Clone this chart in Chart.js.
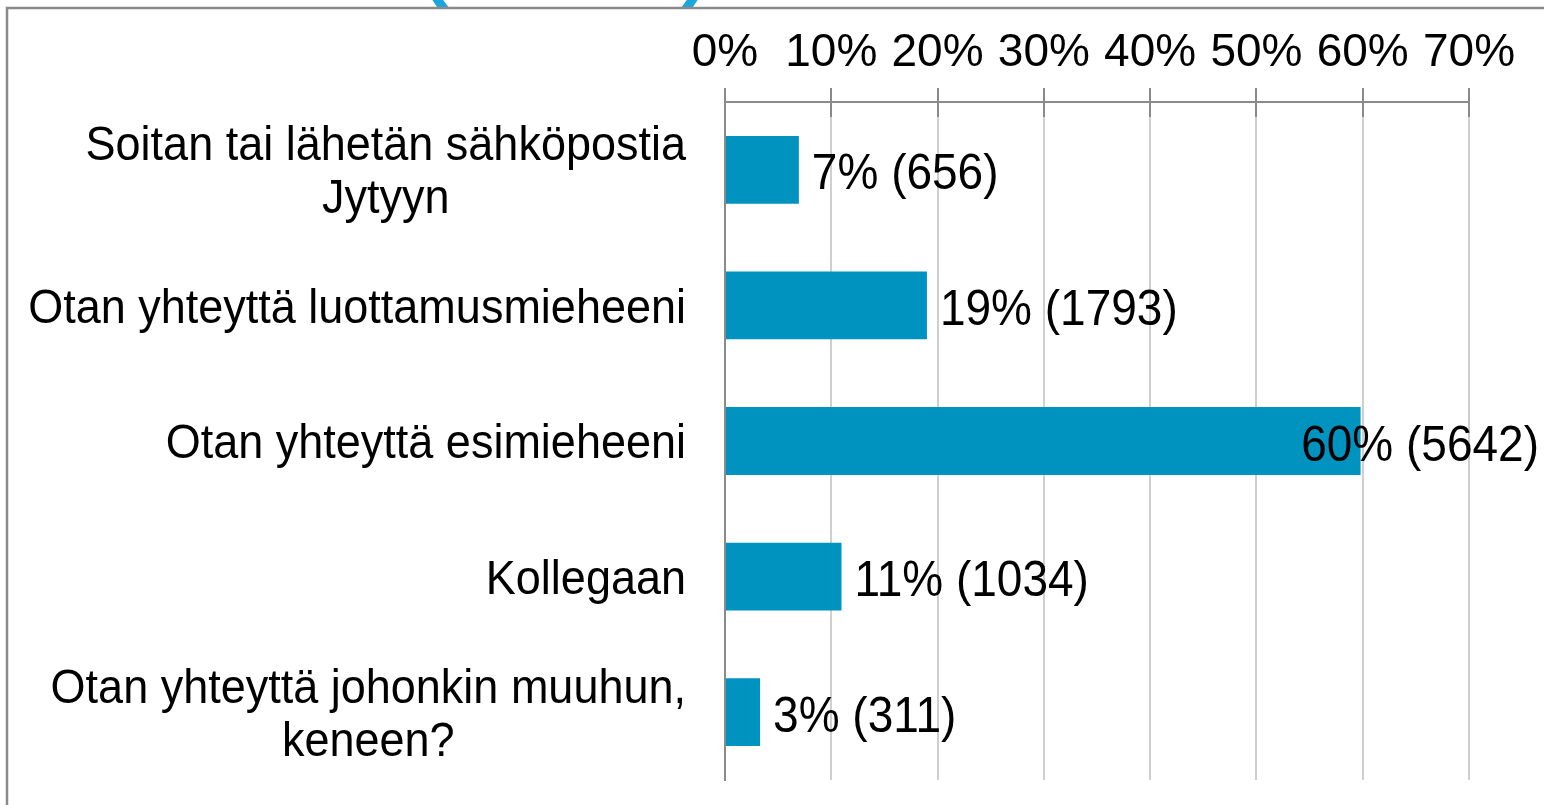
<!DOCTYPE html>
<html>
<head>
<meta charset="utf-8">
<script src="https://cdn.jsdelivr.net/npm/chart.js@4.4.0/dist/chart.umd.min.js"></script>
<style>
  html, body { margin: 0; padding: 0; background: #fff; overflow: hidden; }
  #wrap { width: 1544px; height: 805px; position: relative; }
</style>
</head>
<body>
<div id="wrap"><canvas id="answersChart"></canvas></div>
<script>
// data
const categories = [
  ["Soitan tai lähetän sähköpostia", "Jytyyn"],
  ["Otan yhteyttä luottamusmieheeni"],
  ["Otan yhteyttä esimieheeni"],
  ["Kollegaan"],
  ["Otan yhteyttä johonkin muuhun,", "keneen?"]
];
const shares = [6.95, 19.0, 59.8, 10.96, 3.3];
const shareLabels = ["7%", "19%", "60%", "11%", "3%"];
const counts = [656, 1793, 5642, 1034, 311];
const tickStep = 10;
const tickMax = 70;

const FONT = "'Liberation Sans', Arial, sans-serif";
const barColor = "#0093c0";

// text a little taller than the plain font, like the original
function tallText(ctx, txt, x, y, sy) {
  ctx.save();
  ctx.translate(x, y);
  ctx.scale(1, sy);
  ctx.fillText(txt, 0, 0);
  ctx.restore();
}

// frame, labels and other bits chart.js doesn't do by itself
const extras = {
  id: "extras",
  afterDraw(chart) {
    const ctx = chart.ctx;
    const area = chart.chartArea;
    const xScale = chart.scales.x;
    const yScale = chart.scales.y;
    ctx.save();

    // cut-off blue shape above the frame
    ctx.save();
    ctx.beginPath();
    ctx.rect(0, 0, chart.width, 7);
    ctx.clip();
    ctx.strokeStyle = "#1ba6dc";
    ctx.lineWidth = 9;
    ctx.beginPath();
    ctx.arc(565, -85, 153, 0, Math.PI * 2);
    ctx.stroke();
    ctx.restore();

    // frame
    ctx.strokeStyle = "#8a8a8a";
    ctx.lineWidth = 2.5;
    ctx.beginPath();
    ctx.moveTo(7, chart.height);
    ctx.lineTo(7, 8);
    ctx.lineTo(chart.width, 8);
    ctx.stroke();

    // darker tick stubs just under the axis line
    ctx.strokeStyle = "#8a8a8a";
    ctx.lineWidth = 2;
    for (let v = 0; v <= tickMax; v += tickStep) {
      const px = Math.round(xScale.getPixelForValue(v));
      ctx.beginPath();
      ctx.moveTo(px, area.top);
      ctx.lineTo(px, area.top + 15);
      ctx.stroke();
    }

    // category labels, lines centred within each block
    ctx.fillStyle = "#000";
    ctx.font = "45px " + FONT;
    ctx.textAlign = "center";
    ctx.textBaseline = "middle";
    const lineH = 53;
    categories.forEach((lines, i) => {
      const y = yScale.getPixelForValue(i) + 4;
      const maxW = Math.max(...lines.map(l => ctx.measureText(l).width));
      const cx = area.left - 39 - maxW / 2;
      lines.forEach((l, j) => {
        tallText(ctx, l, cx, y + (j - (lines.length - 1) / 2) * lineH, 1.06);
      });
    });

    // value labels
    ctx.font = "46px " + FONT;
    ctx.textAlign = "left";
    const meta = chart.getDatasetMeta(0);
    meta.data.forEach((bar, i) => {
      const txt = shareLabels[i] + " (" + counts[i] + ")";
      const w = ctx.measureText(txt).width;
      const x = Math.min(bar.x + 13, chart.width - 5 - w);
      tallText(ctx, txt, x, bar.y + 6, 1.07);
    });

    ctx.restore();
  }
};

new Chart(document.getElementById("answersChart"), {
  type: "bar",
  data: {
    labels: categories.map(c => c.join(" ")),
    datasets: [{
      data: shares,
      backgroundColor: barColor,
      borderWidth: 0,
      categoryPercentage: 1,
      barPercentage: 0.5
    }]
  },
  options: {
    indexAxis: "y",
    responsive: true,
    maintainAspectRatio: false,
    animation: false,
    layout: { padding: { left: 0, right: 75, top: 0, bottom: 25 } },
    plugins: {
      legend: { display: false },
      tooltip: { enabled: false }
    },
    scales: {
      x: {
        position: "top",
        min: 0,
        max: tickMax,
        ticks: {
          stepSize: tickStep,
          callback: v => v + "%",
          color: "#000",
          font: { family: FONT, size: 46 },
          padding: 7,
          maxRotation: 0,
          autoSkip: false
        },
        grid: {
          color: "#cfcfcf",
          lineWidth: 2,
          tickColor: "#8a8a8a",
          tickLength: 14
        },
        border: { color: "#8a8a8a", width: 2 },
        afterFit: s => { s.height = 102; }
      },
      y: {
        grid: { display: false },
        border: { color: "#8a8a8a", width: 2 },
        ticks: { display: false },
        afterFit: s => { s.width = 725; }
      }
    }
  },
  plugins: [extras]
});
</script>
</body>
</html>
